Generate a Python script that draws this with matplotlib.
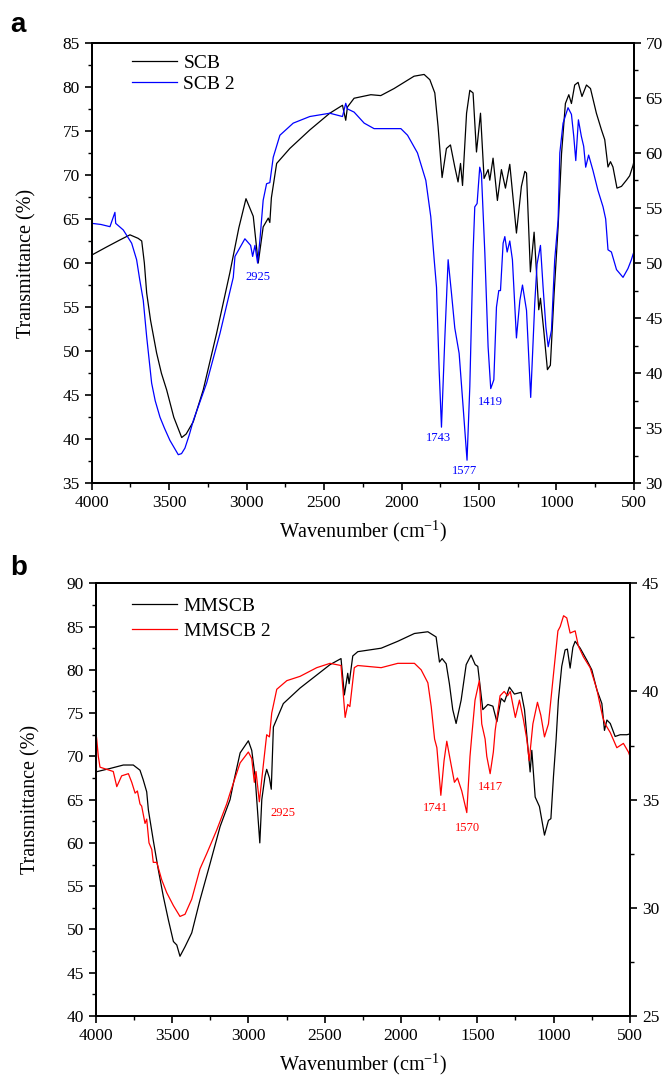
import matplotlib
matplotlib.use('Agg')
import matplotlib.pyplot as plt
from matplotlib.ticker import MultipleLocator

plt.rcParams['font.family'] = ['Liberation Serif', 'DejaVu Serif']

# ---- panel a : SCB (left axis) / SCB 2 (right axis) ----
scb_wn = [4000, 3906, 3820, 3753, 3700, 3677, 3660, 3645, 3620, 3581, 3550, 3516, 3470, 3419,
          3390, 3344, 3280, 3194, 3108, 3050, 3004, 2957, 2925, 2893, 2860, 2850, 2840, 2806,
          2721, 2592, 2463, 2381, 2360, 2349, 2306, 2198, 2134, 2048, 1919, 1854, 1817, 1785,
          1764, 1738, 1710, 1684, 1656, 1635, 1619, 1606, 1580, 1559, 1538, 1516, 1490, 1467,
          1441, 1430, 1409, 1381, 1355, 1329, 1301, 1258, 1226, 1204, 1193, 1168, 1144, 1114,
          1103, 1082, 1058, 1039, 1015, 989, 967, 942, 920, 903, 882, 860, 835, 806, 780, 742,
          709, 688, 667, 651, 635, 609, 580, 548, 527, 505, 500]
scb_t = [60.9, 61.8, 62.6, 63.2, 62.8, 62.5, 60.0, 56.6, 53.5, 49.8, 47.5, 45.6, 42.5, 40.2,
         40.6, 42.0, 45.6, 52.0, 58.9, 64.0, 67.3, 65.3, 60.0, 64.1, 65.1, 64.6, 67.4, 71.3,
         73.0, 75.1, 77.0, 77.9, 76.2, 77.7, 78.7, 79.1, 79.0, 79.8, 81.2, 81.4, 80.8, 79.3,
         75.5, 69.7, 73.0, 73.4, 70.9, 69.2, 71.3, 68.8, 77.0, 79.6, 79.3, 72.6, 77.0, 69.6,
         70.6, 69.4, 71.9, 67.1, 70.6, 68.5, 71.2, 63.4, 68.7, 70.4, 70.2, 59.0, 63.5, 54.7,
         56.0, 52.4, 47.9, 48.4, 56.5, 64.1, 72.4, 78.1, 79.1, 78.1, 80.2, 80.5, 78.9, 80.2,
         79.8, 77.0, 75.1, 74.0, 70.9, 71.5, 70.9, 68.5, 68.7, 69.4, 69.9, 71.1, 71.5]

scb2_wn = [4000, 3998, 3940, 3882, 3850, 3845, 3796, 3742, 3710, 3690, 3667, 3645, 3613, 3590,
           3559, 3530, 3495, 3441, 3420, 3398, 3370, 3344, 3258, 3172, 3086, 3075, 3011, 2974,
           2961, 2946, 2929, 2914, 2893, 2871, 2850, 2828, 2785, 2699, 2592, 2463, 2381, 2360,
           2350, 2306, 2241, 2177, 2004, 1961, 1897, 1843, 1811, 1789, 1774, 1757, 1742, 1720,
           1699, 1677, 1656, 1628, 1602, 1577, 1559, 1538, 1527, 1512, 1495, 1484, 1462, 1441,
           1424, 1404, 1387, 1372, 1361, 1344, 1333, 1318, 1301, 1284, 1258, 1236, 1219, 1193,
           1166, 1140, 1125, 1103, 1086, 1068, 1053, 1032, 1011, 989, 978, 957, 925, 903, 888,
           875, 858, 839, 824, 811, 792, 764, 732, 699, 682, 667, 645, 612, 570, 538, 516, 505,
           500]
scb2_t = [30.0, 53.6, 53.5, 53.3, 54.6, 53.6, 53.0, 51.8, 50.3, 48.5, 46.6, 43.3, 39.1, 37.5,
          36.0, 35.0, 33.9, 32.6, 32.7, 33.2, 34.4, 35.7, 39.1, 43.6, 48.7, 50.6, 52.2, 51.6,
          50.6, 51.6, 50.0, 52.1, 55.7, 57.2, 57.3, 59.6, 61.6, 62.7, 63.3, 63.6, 63.3, 64.5,
          64.0, 63.7, 62.7, 62.2, 62.2, 61.6, 60.0, 57.5, 54.2, 50.3, 47.8, 40.3, 35.1, 43.3,
          50.3, 47.2, 44.1, 41.8, 36.9, 32.1, 38.8, 50.9, 55.1, 55.4, 58.7, 58.1, 50.9, 42.4,
          38.6, 39.4, 46.0, 47.5, 47.5, 51.8, 52.4, 51.0, 52.0, 50.3, 43.2, 46.6, 48.0, 45.7,
          37.8, 46.3, 49.9, 51.6, 47.8, 44.2, 42.4, 43.9, 50.3, 53.9, 60.0, 62.7, 64.1, 63.5,
          61.5, 59.3, 63.0, 61.5, 60.6, 58.7, 59.8, 58.4, 56.6, 55.1, 54.0, 51.2, 51.0, 49.4,
          48.7, 49.5, 50.3, 50.8, 51.0]

# ---- panel b : MMSCB (left axis) / MMSCB 2 (right axis) ----
mm_wn = [4000, 3906, 3819, 3754, 3710, 3689, 3666, 3655, 3623, 3590, 3557, 3524, 3491, 3469,
         3448, 3415, 3371, 3317, 3251, 3185, 3120, 3098, 3054, 3000, 2978, 2956, 2925, 2912,
         2891, 2880, 2862, 2850, 2836, 2771, 2661, 2552, 2465, 2393, 2371, 2349, 2340, 2316,
         2283, 2130, 2021, 1912, 1824, 1770, 1748, 1731, 1704, 1683, 1661, 1639, 1606, 1573,
         1541, 1514, 1497, 1464, 1431, 1398, 1372, 1344, 1322, 1290, 1257, 1213, 1191, 1169,
         1154, 1143, 1121, 1093, 1077, 1060, 1034, 1018, 1001, 984, 969, 947, 925, 910, 892,
         874, 859, 826, 782, 750, 717, 684, 667, 651, 629, 597, 564, 520, 500]
mm_t = [68.2, 68.6, 69.0, 69.0, 68.4, 67.3, 65.9, 63.8, 60.3, 56.9, 53.8, 51.1, 48.6, 48.2,
        46.9, 48.0, 49.6, 53.4, 57.6, 61.9, 65.0, 66.9, 70.4, 71.8, 70.7, 67.7, 60.0, 65.0,
        67.7, 68.5, 67.5, 66.2, 73.4, 76.1, 77.9, 79.4, 80.6, 81.3, 77.1, 79.6, 78.4, 81.6,
        82.1, 82.5, 83.3, 84.2, 84.4, 83.8, 80.9, 81.3, 80.7, 78.4, 75.4, 73.8, 76.5, 80.6,
        81.7, 80.6, 80.4, 75.4, 76.0, 75.8, 74.0, 76.7, 76.3, 78.0, 77.2, 77.4, 75.4, 71.1,
        68.2, 70.7, 65.3, 64.2, 62.6, 60.9, 62.6, 62.8, 67.7, 71.9, 76.5, 80.4, 82.3, 82.4,
        80.2, 82.6, 83.3, 82.5, 81.1, 80.0, 77.7, 76.1, 73.0, 74.2, 73.8, 72.3, 72.5, 72.5, 72.6]

mm2_wn = [4000, 3995, 3983, 3972, 3928, 3885, 3862, 3830, 3786, 3764, 3742, 3727, 3710, 3699,
          3677, 3666, 3651, 3633, 3623, 3600, 3568, 3535, 3491, 3448, 3415, 3371, 3317, 3273,
          3207, 3142, 3120, 3054, 3000, 2978, 2961, 2950, 2928, 2902, 2880, 2862, 2847, 2814,
          2748, 2661, 2552, 2465, 2393, 2366, 2349, 2335, 2306, 2283, 2130, 2021, 1912, 1868,
          1824, 1802, 1780, 1765, 1739, 1718, 1700, 1674, 1650, 1630, 1602, 1569, 1548, 1537,
          1515, 1487, 1471, 1449, 1438, 1416, 1395, 1383, 1351, 1324, 1302, 1284, 1251, 1224,
          1198, 1176, 1160, 1136, 1106, 1084, 1060, 1034, 1001, 972, 957, 935, 914, 892, 859,
          838, 805, 761, 717, 678, 663, 629, 586, 543, 510, 500]
mm2_t = [25.0, 37.9, 37.0, 36.5, 36.4, 36.3, 35.6, 36.1, 36.2, 35.8, 35.3, 35.4, 34.8, 34.7,
         33.9, 34.1, 33.0, 32.7, 32.1, 32.1, 31.3, 30.7, 30.1, 29.6, 29.7, 30.4, 31.8, 32.5,
         33.6, 34.8, 35.3, 36.7, 37.2, 36.9, 35.8, 36.3, 34.9, 36.6, 38.0, 37.9, 39.0, 40.1,
         40.5, 40.7, 41.1, 41.3, 41.2, 38.8, 39.4, 39.3, 41.1, 41.2, 41.1, 41.3, 41.3, 41.0,
         40.4, 39.3, 37.8, 37.4, 35.2, 36.8, 37.7, 36.7, 35.8, 36.0, 35.4, 34.4, 37.0, 37.9,
         39.6, 40.5, 38.5, 37.8, 37.0, 36.2, 37.2, 38.2, 39.8, 40.0, 39.8, 40.0, 38.8, 39.6,
         38.7, 37.8, 36.8, 38.5, 39.5, 38.9, 37.9, 38.5, 40.8, 42.8, 43.0, 43.5, 43.4, 42.7,
         42.8, 42.1, 41.6, 41.1, 40.1, 38.8, 38.5, 38.1, 37.4, 37.6, 37.2, 37.0]

# peak labels (text, wavenumber position, y on the right axis)
peaks_a = [('2925', 2927, 48.7), ('1743', 1761, 34.1), ('1577', 1591, 31.1), ('1419', 1424, 37.4)]
peaks_b = [('2925', 2773, 34.4), ('1741', 1772, 34.6), ('1570', 1565, 33.7), ('1417', 1416, 35.6)]


def style_axes(ax, ax2, ylim1, ylim2):
    ax.set_xlim(4000, 500)
    ax.set_ylim(*ylim1)
    ax2.set_ylim(*ylim2)
    ax.xaxis.set_major_locator(MultipleLocator(500))
    ax.xaxis.set_minor_locator(MultipleLocator(250))
    ax.yaxis.set_major_locator(MultipleLocator(5))
    ax.yaxis.set_minor_locator(MultipleLocator(2.5))
    ax2.yaxis.set_major_locator(MultipleLocator(5))
    ax2.yaxis.set_minor_locator(MultipleLocator(2.5))
    for a in (ax, ax2):
        for s in a.spines.values():
            s.set_linewidth(1.4)
        a.tick_params(which='major', direction='out', length=5, width=1.2, labelsize=12.5)
        a.tick_params(which='minor', direction='out', length=3, width=1.0)
    ax.tick_params(top=False, which='both')
    ax.set_ylabel('Transmittance (%)', fontsize=14.5, labelpad=19)
    ax.set_xlabel('Wavenumber (cm$^{\\mathregular{-1}}$)', fontsize=14.5, labelpad=5)


fig = plt.figure(figsize=(6.62, 10.76), dpi=100)

# panel a
ax = fig.add_axes([0.1385, 0.5508, 0.819, 0.4095])
ax2 = ax.twinx()
l1, = ax.plot(scb_wn, scb_t, color='black', lw=0.9, label='SCB')
l2, = ax2.plot(scb2_wn, scb2_t, color='blue', lw=0.9, label='SCB 2')
style_axes(ax, ax2, (35, 85), (30, 70))
for txt, x, y in peaks_a:
    ax2.text(x, y, txt, color='blue', fontsize=9, ha='center', va='center')
ax.legend(handles=[l1, l2], loc='upper left', bbox_to_anchor=(0.074, 0.973), frameon=False,
          fontsize=14, handlelength=2.3, handletextpad=0.35, labelspacing=0.15,
          borderpad=0, borderaxespad=0)
fig.text(0.015, 0.977, 'a', fontsize=20, fontweight='bold', family='Liberation Sans',
         ha='left', va='center')

# panel b
bx = fig.add_axes([0.1446, 0.0558, 0.807, 0.4021])
bx2 = bx.twinx()
m1, = bx.plot(mm_wn, mm_t, color='black', lw=0.9, label='MMSCB')
m2, = bx2.plot(mm2_wn, mm2_t, color='red', lw=0.9, label='MMSCB 2')
style_axes(bx, bx2, (40, 90), (25, 45))
for txt, x, y in peaks_b:
    bx2.text(x, y, txt, color='red', fontsize=9, ha='center', va='center')
bx.legend(handles=[m1, m2], loc='upper left', bbox_to_anchor=(0.068, 0.968), frameon=False,
          fontsize=14, handlelength=2.3, handletextpad=0.35, labelspacing=0.4,
          borderpad=0, borderaxespad=0)
fig.text(0.015, 0.472, 'b', fontsize=20, fontweight='bold', family='Liberation Sans',
         ha='left', va='center')

fig.savefig('out.png', dpi=100)
